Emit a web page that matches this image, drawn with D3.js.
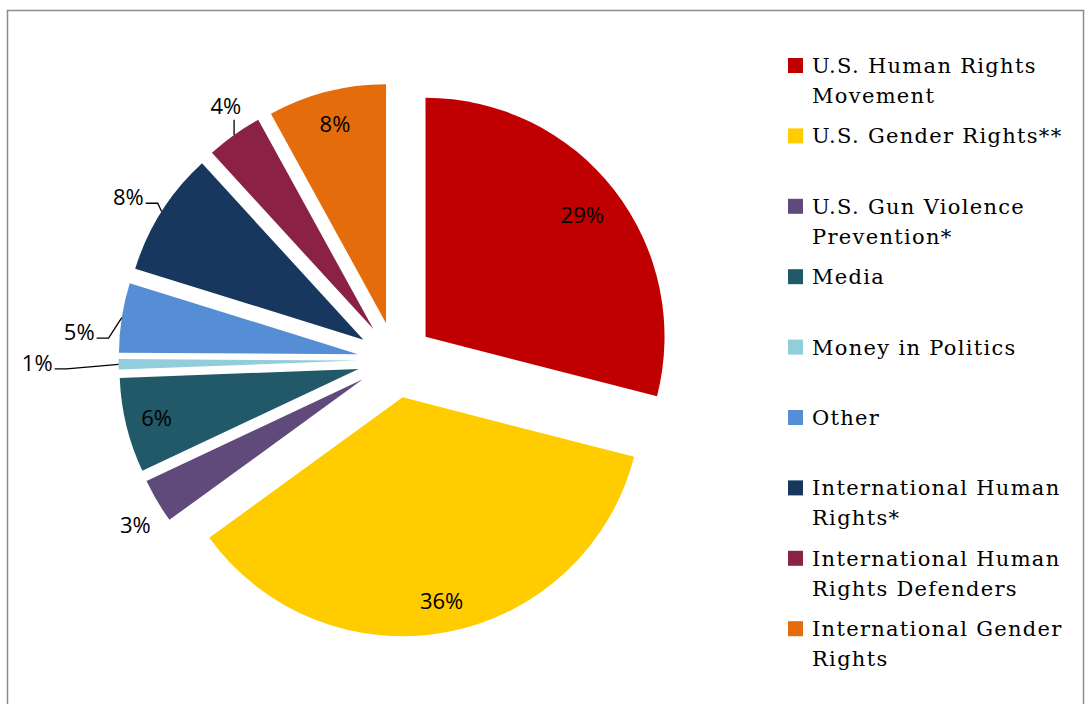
<!DOCTYPE html>
<html>
<head>
<meta charset="utf-8">
<script src="https://cdn.jsdelivr.net/npm/d3@7"></script>
<style>
  body { margin: 0; background: #fff; }
  svg { display: block; }
  .pct { font-family: "Open Sans", sans-serif; font-size: 22px; fill: #000; }
  .legend text { font-family: "DejaVu Serif", serif; font-size: 21px; letter-spacing: 1.3px; fill: #000; }
  .leader { fill: none; stroke: #000; stroke-width: 1.3; }
</style>
</head>
<body>
<div id="chart"></div>
<script>
// categories, clockwise from 12 o'clock
const categories = [
    "U.S. Human Rights Movement",
    "U.S. Gender Rights**",
    "U.S. Gun Violence Prevention*",
    "Media",
    "Money in Politics",
    "Other",
    "International Human Rights*",
    "International Human Rights Defenders",
    "International Gender Rights"
];
// share of total (%)
const shares = [29, 36, 3, 6.4, 0.7, 4.7, 8.4, 3.8, 8];
const colors = ["#c00000", "#ffcc00", "#604a7b", "#215968", "#92cddc",
    "#558ed5", "#17375e", "#8b2245", "#e46c0a"];
// where each % label sits: r = fraction of radius out from the slice tip,
// da = nudge of the angle in degrees, lead = leader line type
const labelPlacement = [
    { r: 0.83, da: 0 },
    { r: 0.87, da: 0 },
    { r: 1.13, da: -2 },
    { r: 0.87, da: 0 },
    { r: 1.34, da: 0.5, lead: "side" },
    { r: 1.17, da: -4.3, lead: "side" },
    { r: 1.15, da: -1.2, lead: "side" },
    { r: 1.12, da: 2.2, lead: "below" },
    { r: 0.86, da: 0 }
];

const width = 1085, height = 704;
const cx = 395.5, cy = 360, radius = 239, explode = 38;
const formatPct = d3.format(".0%");

const svg = d3.select("#chart").append("svg")
    .attr("width", width)
    .attr("height", height);

// chart frame (runs off the bottom/right of the picture)
svg.append("rect")
    .attr("x", 7.5).attr("y", 10.5)
    .attr("width", 1076).attr("height", 720)
    .attr("fill", "none")
    .attr("stroke", "#8c8c8c")
    .attr("stroke-width", 1.5);

const data = categories.map((c, i) => ({
    name: c, value: shares[i], color: colors[i], place: labelPlacement[i]
}));

const pie = d3.pie().sort(null).value(d => d.value);
const arc = d3.arc().innerRadius(0).outerRadius(radius);
const arcs = pie(data);

const dir = a => [Math.sin(a), -Math.cos(a)];
const mid = d => (d.startAngle + d.endAngle) / 2;
// every slice is pulled out the same amount along its middle angle
arcs.forEach(d => {
    const [ux, uy] = dir(mid(d));
    d.tip = [cx + explode * ux, cy + explode * uy];
});

svg.append("g")
    .selectAll("path.slice")
    .data(arcs)
    .join("path")
    .attr("class", "slice")
    .attr("transform", d => `translate(${d.tip[0]},${d.tip[1]})`)
    .attr("d", arc)
    .attr("fill", d => d.data.color);

// percentage labels
const labelXY = d => {
    const a = mid(d) + d.data.place.da * Math.PI / 180;
    const [ux, uy] = dir(a);
    const r = radius * d.data.place.r;
    return [d.tip[0] + r * ux, d.tip[1] + r * uy];
};

const labels = svg.append("g")
    .selectAll("text.pct")
    .data(arcs)
    .join("text")
    .attr("class", "pct")
    .attr("text-anchor", "middle")
    .attr("x", d => labelXY(d)[0])
    .attr("y", d => labelXY(d)[1])
    .attr("dy", "0.36em")
    .text(d => formatPct(d.data.value / 100));

// leader lines for the labels placed outside
const leaderPts = [];
labels.each(function (d) {
    if (!d.data.place.lead) return;
    const [lx, ly] = labelXY(d);
    const w = this.getComputedTextLength();
    const [ux, uy] = dir(mid(d));
    const start = [d.tip[0] + radius * ux, d.tip[1] + radius * uy];
    if (d.data.place.lead === "side") {
        const end = [lx + w / 2 + 2, ly + 6];
        leaderPts.push([start, [end[0] + 12, end[1]], end]);
    } else {
        leaderPts.push([start, [start[0], ly + 14]]);
    }
});

svg.append("g")
    .selectAll("path.leader")
    .data(leaderPts)
    .join("path")
    .attr("class", "leader")
    .attr("d", d3.line());

// legend
const legend = svg.append("g").attr("class", "legend");
const legendX = 788, legendTop = 58, legendStep = 70.4, maxText = 262;

data.forEach((d, i) => {
    const y0 = legendTop + i * legendStep;
    legend.append("rect")
        .attr("x", legendX).attr("y", y0)
        .attr("width", 15).attr("height", 15)
        .attr("fill", d.color);

    const text = legend.append("text")
        .attr("x", legendX + 24)
        .attr("y", y0 + 15);
    // simple word wrap
    const words = d.name.split(" ");
    let line = [];
    let tspan = text.append("tspan").attr("x", legendX + 24).attr("dy", 0);
    words.forEach(w => {
        line.push(w);
        tspan.text(line.join(" "));
        if (tspan.node().getComputedTextLength() > maxText && line.length > 1) {
            line.pop();
            tspan.text(line.join(" "));
            line = [w];
            tspan = text.append("tspan")
                .attr("x", legendX + 24)
                .attr("dy", 30)
                .text(w);
        }
    });
});
</script>
</body>
</html>
